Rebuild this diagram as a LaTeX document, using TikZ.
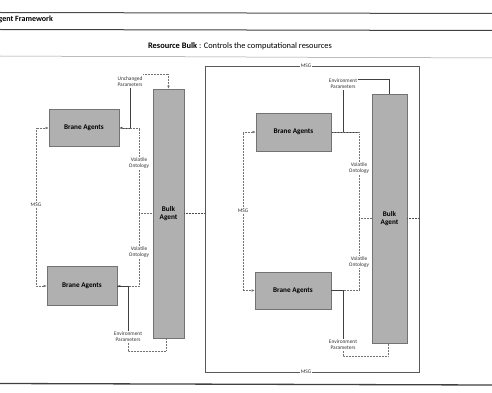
\documentclass[tikz,border=0pt]{standalone}
\usepackage{fontspec}
\setmainfont{Carlito}
\usetikzlibrary{arrows.meta}
\begin{document}
\begin{tikzpicture}[x=1pt,y=-1pt,
  box/.style={draw=black!55,fill=black!31,line width=0.6pt,inner sep=0pt,font=\fontsize{7.2}{8.2}\selectfont\bfseries,align=center},
  lbl/.style={font=\fontsize{5.4}{6.2}\selectfont,align=center,inner sep=0.6pt,fill=white,text=black!80},
  wire/.style={draw=black!55,line width=0.5pt,densely dotted},
  solidwire/.style={draw=black!75,line width=0.6pt},
  tip/.style={-{Latex[length=3pt,width=2.6pt]}},
  rule/.style={draw=black!75,line width=1pt}]
\useasboundingbox (0,0) rectangle (492,393);
\fill[white] (0,0) rectangle (492,393);
% frame lines
\draw[rule,draw=black!70] (0,12.5) -- (492,13.5);
\draw[rule] (0,29.5) -- (492,30.5);
\draw[draw=black!40,line width=0.5pt] (0,56) -- (492,58);
\draw[rule,line width=1.3pt] (0,383.5) -- (492,385);
\node[anchor=west,inner sep=0pt,font=\fontsize{8}{9}\selectfont\bfseries] (hdr) at (-1.5,19) {gent Framework};
\node[inner sep=0pt,font=\fontsize{8.4}{9.5}\selectfont] (ttl) at (240,46) {\textbf{Resource Bulk} : Controls the computational resources};
% right container
\node[draw=black!65,line width=0.6pt,minimum width=214pt,minimum height=306pt,inner sep=0pt] (cont) at (312,219) {};
\node[lbl] (mtop) at (306,66) {MSG};
\node[lbl] (mbot) at (306,372) {MSG};
% left group
\node[box,minimum width=70pt,minimum height=37pt] (bA1) at (84,128) {Brane Agents};
\node[box,minimum width=70pt,minimum height=39pt] (bA2) at (82,286) {Brane Agents};
\node[box,minimum width=31pt,minimum height=249pt] (bulkL) at (168.5,213.5) {Bulk\\Agent};
\node[lbl] (unchL) at (130,82) {Unchanged\\Parameters};
\node[lbl] (envL) at (128,337) {Environment\\Parameters};
\node[lbl] (msgL) at (36,205) {MSG};
\coordinate (jL) at (139,213.5);
\draw[wire,tip] (msgL) |- (bA1.west);
\draw[wire,tip] (msgL) |- (bA2.west);
\draw[wire,tip] ([yshift=2pt]unchL.north east) -| (bulkL.north);
\draw[solidwire,tip] (unchL.south) |- (bA1.east);
\draw[wire] (jL) |- (bA1.east);
\draw[wire,tip] (jL) |- (bA2.east);
\draw[wire] (jL) -- (bulkL.west);
\draw[solidwire] (envL.north) |- (bA2.east);
\draw[wire] (envL.south) |- ++(38,8) coordinate (eL) -- (eL |- bulkL.south);
\draw[wire,draw=black!70] (bulkL.east) -- (bulkL.east -| cont.west);
\node[lbl] (volL1) at (139,163) {Volatile\\Ontology};
\node[lbl] (volL2) at (139,252) {Volatile\\Ontology};
% right group
\node[box,minimum width=75pt,minimum height=38pt] (bA3) at (293.5,132) {Brane Agents};
\node[box,minimum width=76pt,minimum height=37pt] (bA4) at (293,290.5) {Brane Agents};
\node[box,minimum width=35pt,minimum height=249pt] (bulkR) at (389.5,218.5) {Bulk\\Agent};
\node[lbl] (envR1) at (343,84) {Environment\\Parameters};
\node[lbl] (envR2) at (343,345) {Environment\\Parameters};
\node[lbl] (msgR) at (243,211) {MSG};
\coordinate (jR) at (359,218.5);
\draw[wire,tip] (msgR) |- (bA3.west);
\draw[wire,tip] (msgR) |- (bA4.west);
\draw[solidwire] ([yshift=-1.5pt]envR1.north east) -| (bulkR.north);
\draw[solidwire] (envR1.south) -- (envR1.south |- bA3.east);
\draw[solidwire] (bA3.east) -- (bA3.east -| jR);
\draw[wire] (jR) |- (bA3.east);
\draw[wire] (jR) |- (bA4.east);
\draw[wire] (jR) -- (bulkR.west);
\draw[solidwire] (bA4.east) -- (bA4.east -| envR2.north) -- (envR2.north);
\draw[wire] (envR2.south) |- ++(45,5) coordinate (eR) -- (eR |- bulkR.south);
\draw[wire,draw=black!70] (bulkR.east) -- (bulkR.east -| cont.east);
\node[lbl] (volR1) at (359,168) {Volatile\\Ontology};
\node[lbl] (volR2) at (359,262) {Volatile\\Ontology};
\end{tikzpicture}
\end{document}
